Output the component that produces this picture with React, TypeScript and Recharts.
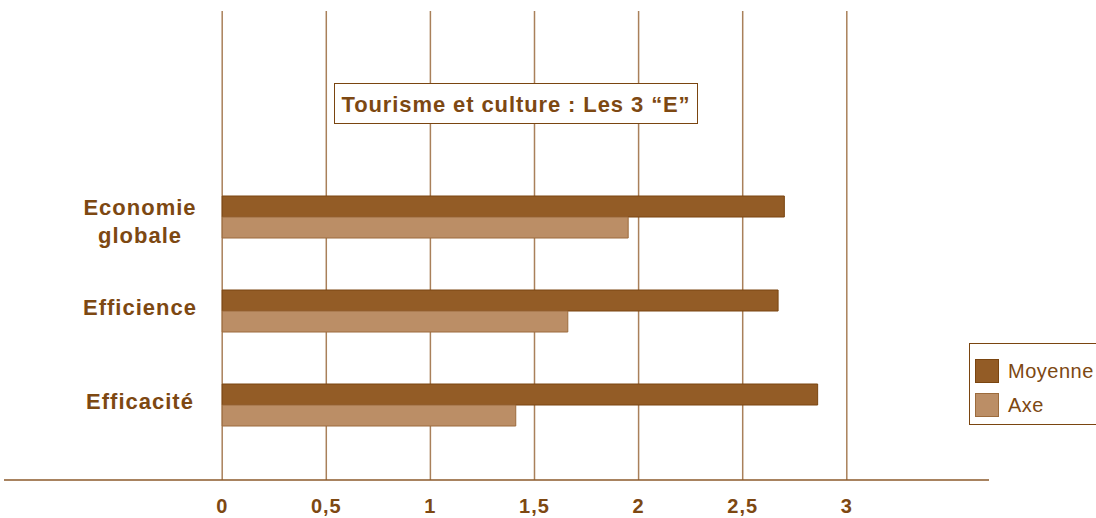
import React from "react";
import { BarChart, Bar, XAxis, YAxis, CartesianGrid, Legend, Customized } from "recharts";

const categories = ["Economie globale", "Efficience", "Efficacité"];
const moyenne = [2.7, 2.67, 2.86];
const axe = [1.95, 1.66, 1.41];
const xTicks = [0, 0.5, 1, 1.5, 2, 2.5, 3];
const title = "Tourisme et culture : Les 3 \u201cE\u201d";

const data = categories.map((c, i) => ({ name: c, Moyenne: moyenne[i], Axe: axe[i] }));

const TEXT = "#7d4812";
const FONT = "'Liberation Sans', Arial, sans-serif";
const MOY_FILL = "#935c26";
const MOY_STROKE = "#7a4510";
const AXE_FILL = "#bb8e66";
const AXE_STROKE = "#9c6b3c";

const YTick = (props: any) => {
  const { y, payload } = props;
  const words = String(payload.value).split(" ");
  const lines = words.length > 1 ? words : [payload.value];
  const lh = 28;
  const shift = lines.length > 1 ? 4 : -4;
  const start = y - ((lines.length - 1) * lh) / 2 + shift;
  return (
    <text x={140} y={start} textAnchor="middle" fill={TEXT} fontFamily={FONT} fontWeight="bold" fontSize={22} letterSpacing={1}>
      {lines.map((l: string, i: number) => (
        <tspan key={i} x={140} y={start + i * lh} dy="0.35em">{l}</tspan>
      ))}
    </text>
  );
};

const LegendContent = () => (
  <div style={{ border: `1.5px solid ${MOY_STROKE}`, borderRight: "none", background: "#fff", width: 128, height: 82, boxSizing: "border-box", padding: "10px 0 0 5px", fontFamily: FONT, fontSize: 20, letterSpacing: 0.5, color: TEXT }}>
    {[{ n: "Moyenne", f: MOY_FILL, s: MOY_STROKE }, { n: "Axe", f: AXE_FILL, s: AXE_STROKE }].map((it) => (
      <div key={it.n} style={{ display: "flex", alignItems: "center", height: 34 }}>
        <span style={{ display: "inline-block", width: 22, height: 22, background: it.f, border: `1px solid ${it.s}`, marginRight: 9, flexShrink: 0 }} />
        <span style={{ whiteSpace: "nowrap" }}>{it.n}</span>
      </div>
    ))}
  </div>
);

const TitleBox = () => (
  <g>
    <rect x={334.5} y={83.5} width={363} height={40} fill="#fff" stroke={MOY_STROKE} strokeWidth={1} />
    <text x={516} y={104} textAnchor="middle" dominantBaseline="central" fill={TEXT} fontFamily={FONT} fontWeight="bold" fontSize={22} letterSpacing={0.9}>{title}</text>
  </g>
);

export default function App() {
  return (
    <div style={{ position: "absolute", left: 0, top: 0, width: 1096, height: 518, background: "#fff" }}>
      <BarChart
        width={1096}
        height={518}
        data={data}
        layout="vertical"
        margin={{ top: 11, right: 107, bottom: 0, left: 3 }}
        barGap={0}
        barSize={21}
      >
        <CartesianGrid horizontal={false} vertical={true} stroke="#a9805a" strokeWidth={1.5} syncWithTicks />
        <XAxis
          type="number"
          domain={[-1.048, 3.683]}
          allowDataOverflow
          ticks={xTicks}
          tickFormatter={(v: number) => String(v).replace(".", ",")}
          axisLine={{ stroke: "#8b5a2b", strokeWidth: 1.5 }}
          tickLine={false}
          tickSize={0}
          tickMargin={19}
          height={38}
          tick={{ fill: TEXT, fontFamily: FONT, fontWeight: "bold", fontSize: 20, letterSpacing: 1 }}
        />
        <YAxis
          type="category"
          dataKey="name"
          width={1}
          axisLine={false}
          tickLine={false}
          padding={{ top: 159, bottom: 28 }}
          tick={<YTick />}
        />
        <Legend
          layout="vertical"
          verticalAlign="middle"
          align="center"
          content={<LegendContent />}
          wrapperStyle={{ left: 969, top: 343, width: 128 }}
        />
        <Bar dataKey="Moyenne" fill={MOY_FILL} stroke={MOY_STROKE} strokeWidth={1} isAnimationActive={false} />
        <Bar dataKey="Axe" fill={AXE_FILL} stroke={AXE_STROKE} strokeWidth={1} isAnimationActive={false} />
        <Customized component={TitleBox} />
      </BarChart>
    </div>
  );
}
